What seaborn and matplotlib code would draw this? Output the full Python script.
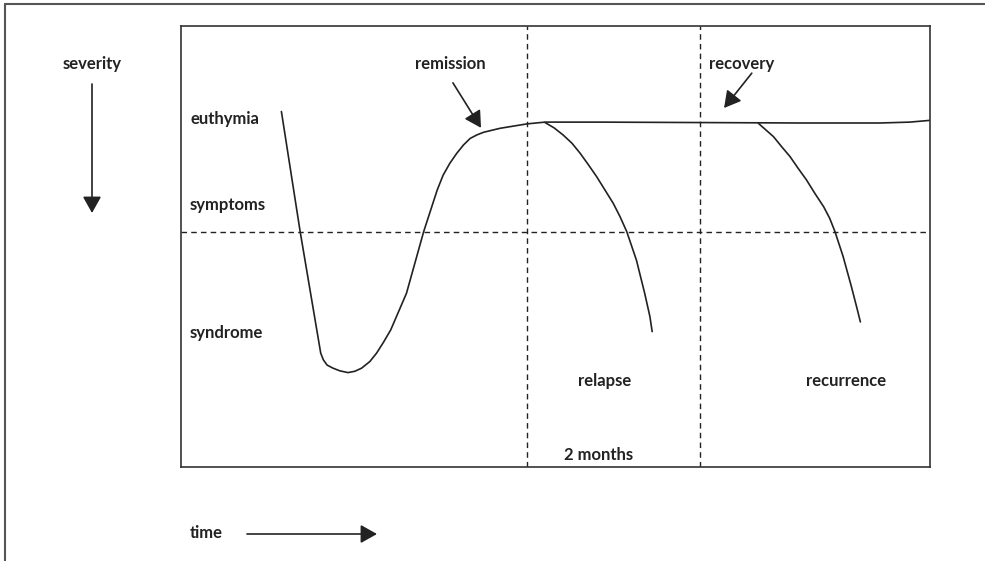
"""
plot.py
-------
Course of a depressive episode: remission, recovery, relapse and recurrence.
Saves the figure as out.png.
"""

import matplotlib
matplotlib.use("Agg")
import matplotlib.pyplot as plt
from matplotlib.lines import Line2D
from matplotlib.patches import FancyArrowPatch
import seaborn as sns
import pandas as pd

# ── data (time 0–100, severity 0–100, severity grows downward) ───────────────
episode_time = [13.4, 15.9, 18.5, 18.65, 19.0, 19.5, 20.3, 21.2, 22.3, 23.2,
                24.1, 25.2, 26.1, 27.0, 28.0, 30.1, 32.4, 34.2, 35.0, 35.9,
                36.8, 37.7, 38.6, 39.5, 40.4, 42.6, 46.2, 48.6, 55.9, 69.3,
                82.6, 93.3, 97.3, 100.0]
episode_sev = [19.4, 46.6, 72.7, 74.2, 75.7, 76.9, 77.6, 78.2, 78.6, 78.3,
               77.6, 76.1, 74.2, 71.8, 68.9, 60.6, 46.6, 37.2, 33.8, 31.1,
               28.9, 27.0, 25.5, 24.7, 24.1, 23.2, 22.2, 21.8, 21.8, 21.9,
               22.0, 22.0, 21.8, 21.4]

relapse_time = [48.6, 49.8, 51.0, 52.2, 53.3, 54.4, 55.5, 56.6, 57.7, 58.6,
                59.5, 60.8, 61.9, 62.6, 62.9]
relapse_sev = [21.9, 23.1, 24.7, 26.6, 28.9, 31.5, 34.2, 37.2, 40.2, 43.2,
               46.6, 53.1, 60.6, 65.9, 69.3]

recurrence_time = [77.1, 79.1, 80.2, 81.3, 82.4, 83.5, 84.6, 85.8, 86.6, 87.3,
                   88.4, 89.5, 90.2, 90.7]
recurrence_sev = [22.1, 25.1, 27.4, 29.6, 32.3, 34.9, 37.9, 41.0, 43.6, 46.6,
                  52.3, 59.1, 63.7, 67.1]

level_names = ["euthymia", "symptoms", "syndrome"]
level_sev = [21.1, 40.6, 69.6]

threshold_sev = 46.7            # symptoms / syndrome boundary
phase_marks = [46.2, 69.3]      # the "2 months" window

# ── style ────────────────────────────────────────────────────────────────────
sns.set_theme(style="white")
plt.rcParams["font.family"] = ["Lato", "DejaVu Sans"]
INK = "#222222"
FS = 12
BOLD = dict(fontsize=FS, fontweight="bold", color=INK)

fig = plt.figure(figsize=(9.85, 5.61), dpi=100, facecolor="white")
ax = fig.add_axes([0.1838, 0.1676, 0.7604, 0.7861])
ax.set_xlim(0, 100)
ax.set_ylim(100, 0)
ax.set_xticks([])
ax.set_yticks([])
for sp in ax.spines.values():
    sp.set_color("#333333")
    sp.set_linewidth(1.2)

curves = [(episode_time, episode_sev), (relapse_time, relapse_sev),
          (recurrence_time, recurrence_sev)]
for t, s in curves:
    sns.lineplot(data=pd.DataFrame({"t": t, "s": s}), x="t", y="s",
                 sort=False, estimator=None, color=INK, lw=1.2, ax=ax)
ax.set_xlabel("")
ax.set_ylabel("")

ax.axhline(threshold_sev, color=INK, lw=1.0, ls=(0, (4, 3)))
for x in phase_marks:
    ax.axvline(x, color=INK, lw=1.0, ls=(0, (4, 3)))

for name, s in zip(level_names, level_sev):
    ax.text(1.2, s, name, ha="left", va="center", **BOLD)

arrow_kw = dict(arrowstyle="-|>,head_length=0.5,head_width=0.28",
                color=INK, lw=1.2, shrinkA=0, shrinkB=0, mutation_scale=20)

ax.text(36.0, 8.6, "remission", ha="center", va="center", **BOLD)
ax.annotate("", xy=(40.05, 23.1), xytext=(36.3, 12.9), arrowprops=arrow_kw)
ax.text(74.9, 8.6, "recovery", ha="center", va="center", **BOLD)
ax.annotate("", xy=(72.5, 18.6), xytext=(76.2, 10.7), arrowprops=arrow_kw)

ax.text(56.5, 80.5, "relapse", ha="center", va="center", **BOLD)
ax.text(88.8, 80.5, "recurrence", ha="center", va="center", **BOLD)
ax.text(55.7, 97.3, "2 months", ha="center", va="center", **BOLD)

# ── axis captions outside the box ────────────────────────────────────────────
fig.text(0.0934, 0.886, "severity", ha="center", va="center", **BOLD)
fig.add_artist(FancyArrowPatch(
    (0.0934, 1 - 84 / 561), (0.0934, 1 - 213 / 561),
    transform=fig.transFigure, **arrow_kw))

fig.text(190 / 985, 1 - 533 / 561, "time", ha="left", va="center", **BOLD)
fig.add_artist(FancyArrowPatch(
    (247 / 985, 1 - 534 / 561), (377 / 985, 1 - 534 / 561),
    transform=fig.transFigure, **arrow_kw))

# outer frame (top and left only)
fig.add_artist(Line2D([0.005, 1.0], [0.9929, 0.9929], color="#555555", lw=1.5))
fig.add_artist(Line2D([0.005, 0.005], [0.0, 0.9929], color="#555555", lw=1.5))

fig.savefig("out.png", dpi=100, facecolor="white")
